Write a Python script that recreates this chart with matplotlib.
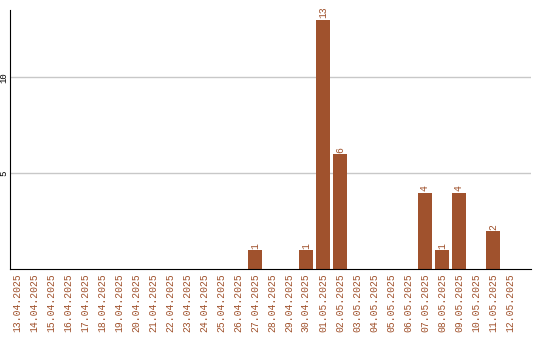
import matplotlib
matplotlib.use("Agg")
import matplotlib.pyplot as plt

dates = ["13.04.2025", "14.04.2025", "15.04.2025", "16.04.2025", "17.04.2025",
         "18.04.2025", "19.04.2025", "20.04.2025", "21.04.2025", "22.04.2025",
         "23.04.2025", "24.04.2025", "25.04.2025", "26.04.2025", "27.04.2025",
         "28.04.2025", "29.04.2025", "30.04.2025", "01.05.2025", "02.05.2025",
         "03.05.2025", "04.05.2025", "05.05.2025", "06.05.2025", "07.05.2025",
         "08.05.2025", "09.05.2025", "10.05.2025", "11.05.2025", "12.05.2025"]
counts = [0, 0, 0, 0, 0, 0, 0, 0, 0, 0, 0, 0, 0, 0, 1,
          0, 0, 1, 13, 6, 0, 0, 0, 0, 4, 1, 4, 0, 2, 0]
yticks = [5, 10]

bar_color = "#a0522d"
font = "Liberation Mono"

fig = plt.figure(figsize=(5.4, 3.4), dpi=100)
ax = fig.add_axes([0.0194, 0.2074, 0.9639, 0.7632])

x = range(len(dates))
ax.bar(x, counts, width=0.82, color=bar_color, zorder=2)
for i, v in zip(x, counts):
    if v > 0:
        ax.text(i, v + 0.08, str(v), rotation=90, ha="center", va="bottom",
                color=bar_color, fontsize=7, family=font)

ax.set_xlim(-0.38, 30.24)
ax.set_ylim(0, 13.5)
ax.set_xticks(list(x))
ax.set_xticklabels(dates, rotation=90, color=bar_color, fontsize=7, family=font)
ax.set_yticks(yticks)
ax.set_yticklabels([str(t) for t in yticks], rotation=90, va="center",
                   fontsize=6.5, family=font)
ax.tick_params(length=0, pad=3)
ax.tick_params(axis="y", pad=1.5)
ax.grid(axis="y", color="#c8c8c8", linewidth=1, zorder=0)
for s in ["top", "right"]:
    ax.spines[s].set_visible(False)
ax.spines["left"].set_color("black")
ax.spines["bottom"].set_color("black")

fig.savefig("out.png", dpi=100)
